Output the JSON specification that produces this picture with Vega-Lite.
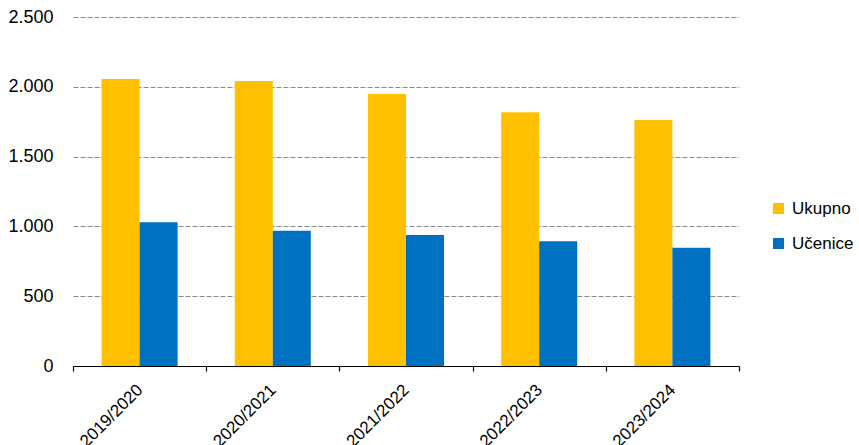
{
  "$schema": "https://vega.github.io/schema/vega-lite/v6.json",
  "autosize": "none",
  "padding": {"left": 73, "top": 17, "right": 120, "bottom": 79},
  "width": 666,
  "height": 349,
  "data": {
    "values": [
      {"year": "2019/2020", "series": "Ukupno", "value": 2056},
      {"year": "2019/2020", "series": "Učenice", "value": 1029},
      {"year": "2020/2021", "series": "Ukupno", "value": 2042},
      {"year": "2020/2021", "series": "Učenice", "value": 969},
      {"year": "2021/2022", "series": "Ukupno", "value": 1948},
      {"year": "2021/2022", "series": "Učenice", "value": 938},
      {"year": "2022/2023", "series": "Ukupno", "value": 1817},
      {"year": "2022/2023", "series": "Učenice", "value": 893},
      {"year": "2023/2024", "series": "Ukupno", "value": 1762},
      {"year": "2023/2024", "series": "Učenice", "value": 847}
    ]
  },
  "mark": {"type": "bar"},
  "encoding": {
    "x": {
      "field": "year",
      "type": "nominal",
      "sort": null,
      "scale": {"paddingInner": 0, "paddingOuter": 0},
      "axis": {
        "title": null,
        "tickBand": "extent",
        "domainColor": "#000000",
        "domainWidth": 1.2,
        "tickColor": "#000000",
        "tickWidth": 1.2,
        "tickSize": 5,
        "labelAngle": -45,
        "labelAlign": "right",
        "labelBaseline": "middle",
        "labelPadding": 16,
        "labelFont": "Liberation Sans",
        "labelFontSize": 17,
        "labelColor": "#000000",
        "grid": false
      }
    },
    "xOffset": {
      "field": "series",
      "type": "nominal",
      "sort": ["Ukupno", "Učenice"],
      "scale": {"paddingInner": 0, "paddingOuter": 0.7526}
    },
    "y": {
      "field": "value",
      "type": "quantitative",
      "scale": {"domain": [0, 2500], "nice": false},
      "axis": {
        "title": null,
        "values": [0, 500, 1000, 1500, 2000, 2500],
        "labelExpr": "replace(format(datum.value, ',d'), ',', '.')",
        "domain": false,
        "ticks": false,
        "labelPadding": 20,
        "labelFont": "Liberation Sans",
        "labelFontSize": 18,
        "labelColor": "#000000",
        "grid": true,
        "gridColor": "#888888",
        "gridDash": [5, 2],
        "gridWidth": 1.2
      }
    },
    "color": {
      "field": "series",
      "type": "nominal",
      "sort": ["Ukupno", "Učenice"],
      "scale": {"domain": ["Ukupno", "Učenice"], "range": ["#FFC000", "#0070C0"]},
      "legend": {
        "title": null,
        "orient": "none",
        "legendX": 697,
        "legendY": 183,
        "padding": 0,
        "symbolType": "square",
        "symbolSize": 121,
        "symbolStrokeWidth": 0,
        "rowPadding": 17,
        "labelOffset": 5,
        "labelFont": "Liberation Sans",
        "labelFontSize": 17,
        "labelColor": "#000000"
      }
    }
  },
  "config": {
    "view": {"stroke": null},
    "axisY": {"gridZIndex": 0}
  }
}
